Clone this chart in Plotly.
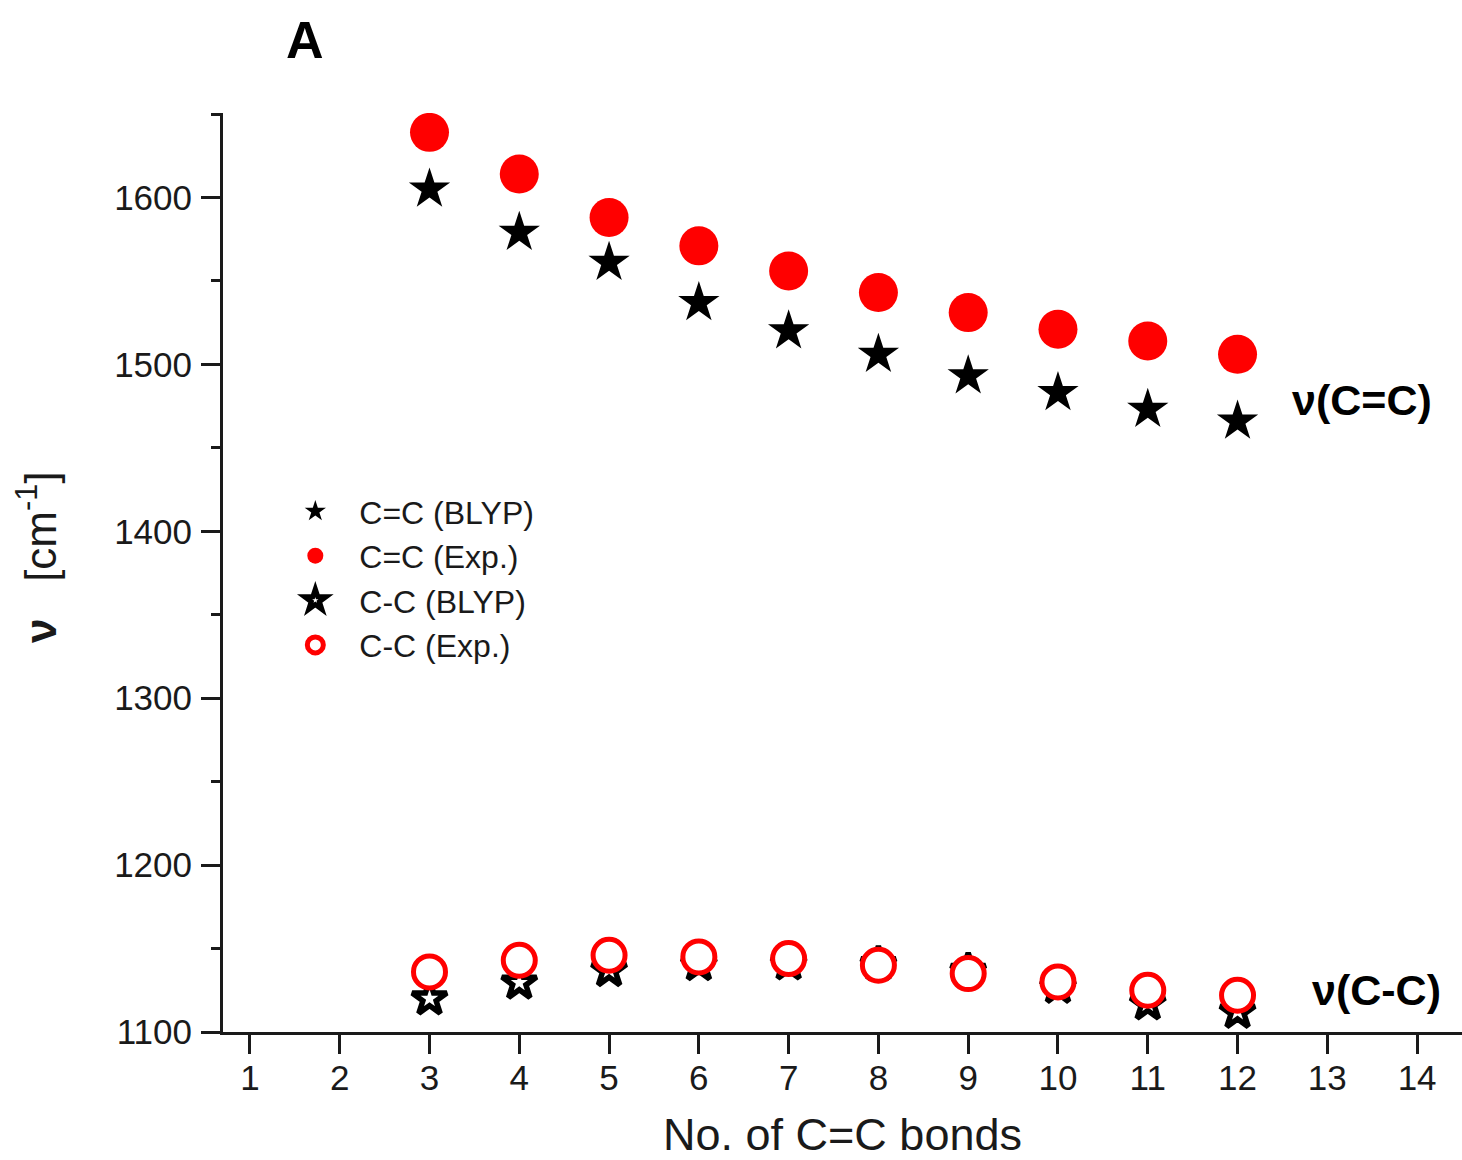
import plotly.graph_objects as go

# ---- data ----
n_bonds = [3, 4, 5, 6, 7, 8, 9, 10, 11, 12]
cc_double_blyp = [1605, 1579, 1561, 1537, 1520, 1506, 1493, 1483, 1473, 1466]
cc_double_exp = [1639, 1614, 1588, 1571, 1556, 1543, 1531, 1521, 1514, 1506]
cc_single_blyp = [1120, 1129.5, 1137, 1140.5, 1141, 1140.5, 1136.5, 1127, 1117, 1112]
cc_single_exp = [1136, 1143, 1146, 1145, 1144, 1140, 1135, 1130, 1125, 1122]

x_ticks = list(range(1, 15))

FONT = "Liberation Sans, Arial, sans-serif"
TXT = "#1a1a1a"

fig = go.Figure()
fig.add_trace(go.Scatter(x=n_bonds, y=cc_double_blyp, mode="markers", name="C=C (BLYP)",
                         marker=dict(symbol="star", size=31, color="black", line=dict(width=0))))
fig.add_trace(go.Scatter(x=n_bonds, y=cc_double_exp, mode="markers", name="C=C (Exp.)",
                         marker=dict(symbol="circle", size=39, color="#ff0000", line=dict(width=0))))
fig.add_trace(go.Scatter(x=n_bonds, y=cc_single_blyp, mode="markers", name="C-C (BLYP)",
                         marker=dict(symbol="star", size=26, color="white", line=dict(width=5.5, color="black"))))
fig.add_trace(go.Scatter(x=n_bonds, y=cc_single_exp, mode="markers", name="C-C (Exp.)",
                         marker=dict(symbol="circle", size=32, color="white", line=dict(width=5, color="#ff0000"))))

fig.update_layout(
    width=1462, height=1160,
    margin=dict(l=223, r=0, t=113, b=128),
    paper_bgcolor="white", plot_bgcolor="white",
    font=dict(family=FONT, color=TXT),
    showlegend=True,
    legend=dict(x=0.039, y=0.5965, xanchor="left", yanchor="top",
                font=dict(size=32, family=FONT, color=TXT),
                bgcolor="rgba(0,0,0,0)", itemwidth=78, tracegroupgap=0),
    xaxis=dict(range=[0.7, 14.5], tickmode="array", tickvals=x_ticks,
               ticktext=[str(v) for v in x_ticks],
               showline=True, linecolor="#1a1a1a", linewidth=3,
               ticks="outside", ticklen=19, tickwidth=3, tickcolor="#1a1a1a",
               tickfont=dict(size=35, family=FONT, color=TXT),
               ticklabelstandoff=-6,
               showgrid=False, zeroline=False,
               title=dict(text="No. of C=C bonds", font=dict(size=45, family=FONT, color=TXT), standoff=26)),
    yaxis=dict(range=[1100, 1650.6], tickmode="linear", tick0=1100, dtick=100,
               showline=True, linecolor="#1a1a1a", linewidth=3,
               ticks="outside", ticklen=19, tickwidth=3, tickcolor="#1a1a1a",
               tickfont=dict(size=35, family=FONT, color=TXT),
               ticklabelstandoff=2,
               minor=dict(ticks="outside", ticklen=9, tickwidth=3, tickcolor="#1a1a1a", dtick=50, tick0=1100, showgrid=False),
               showgrid=False, zeroline=False),
)

fig.add_annotation(text="<b>A</b>", xref="paper", yref="paper", x=0.066, y=1.0795,
                   xanchor="center", yanchor="middle",
                   showarrow=False, font=dict(size=52, family=FONT, color="black"))
fig.add_annotation(text="<b>ν(C=C)</b>", xref="paper", yref="paper", x=0.861, y=0.688,
                   xanchor="left", yanchor="middle", showarrow=False,
                   font=dict(size=43, family=FONT, color="black"))
fig.add_annotation(text="<b>ν(C-C)</b>", xref="paper", yref="paper", x=0.877, y=0.0454,
                   xanchor="left", yanchor="middle", showarrow=False,
                   font=dict(size=43, family=FONT, color="black"))
fig.add_annotation(text="<b>ν</b>   [cm<sup>-1</sup>]", xref="paper", yref="paper", x=-0.15, y=0.517,
                   xanchor="center", yanchor="middle", textangle=-90, showarrow=False,
                   font=dict(size=44, family=FONT, color=TXT))

fig.write_html("out.html")
